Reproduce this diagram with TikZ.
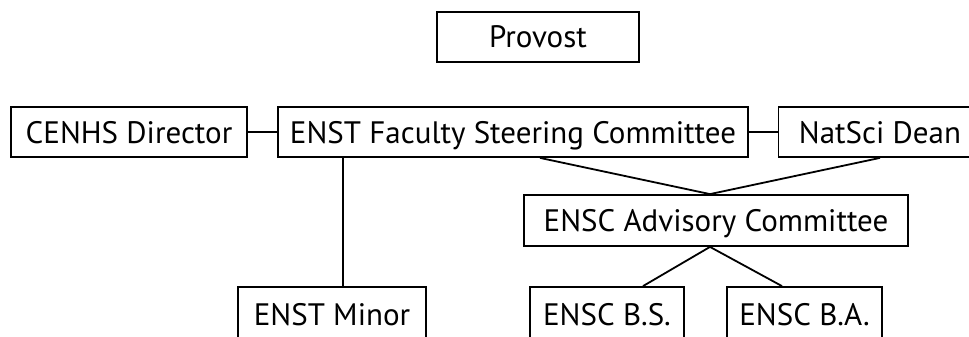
\documentclass[tikz,border=0pt]{standalone}
\usepackage{fontspec}
\setmainfont{PT Sans}
\usetikzlibrary{calc}
\tikzset{
  box/.style={draw,line width=1.8pt,inner sep=0pt,minimum height=50pt,
    text height=22pt,text depth=0pt,font=\fontsize{31}{36}\selectfont},
  link/.style={line width=1.8pt},
}
\begin{document}
\begin{tikzpicture}[x=1pt,y=-1pt]
  \useasboundingbox (0,0) rectangle (969,337);
  \node[box,minimum width=202pt] (prov) at (538,37) {Provost};
  \node[box,minimum width=236pt] (cenhs) at (129,132) {CENHS Director};
  \node[box,minimum width=470pt] (steer) at (513,132) {ENST Faculty Steering Committee};
  \node[box,minimum width=203pt] (dean) at (880,132) {NatSci Dean};
  \node[box,minimum width=384pt,minimum height=51pt] (adv) at (716,220.5) {ENSC Advisory Committee};
  \node[box,minimum width=188pt,minimum height=54pt] (minor) at (332,314) {ENST Minor};
  \node[box,minimum width=154pt,minimum height=54pt] (bs) at (607,314) {ENSC B.S.};
  \node[box,minimum width=155pt,minimum height=54pt] (ba) at (804.5,314) {ENSC B.A.};
  \coordinate (top) at ($(adv.north)+(-6,0)$);
  \coordinate (bot) at ($(adv.south)+(-6,0)$);
  \draw[link] (cenhs) -- (steer);
  \draw[link] (steer) -- (dean);
  \draw[link] (steer.south -| 343,0) -- (minor.north -| 343,0);
  \draw[link] (steer.south -| 540,0) -- (top) -- (dean.south);
  \draw[link] (bs.north -| 643,0) -- (bot) -- (ba.north -| 782,0);
\end{tikzpicture}
\end{document}
